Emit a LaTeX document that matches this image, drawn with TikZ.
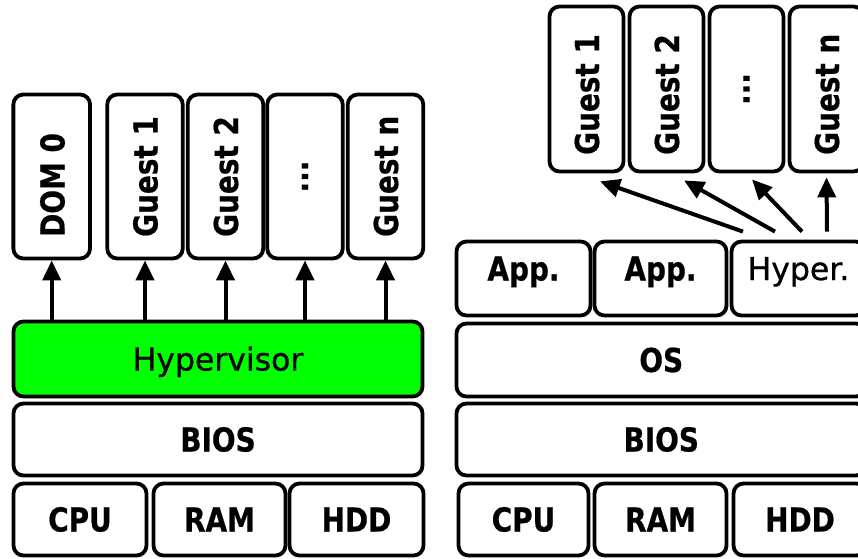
\documentclass[tikz,border=0pt]{standalone}
\usepackage{fontspec}
\setmainfont{DejaVu Sans}[FakeBold=0.8]
\newfontfamily\bfont{DejaVu Sans}[FakeStretch=0.845, FakeBold=0.6]
\usetikzlibrary{arrows.meta,calc}
\definecolor{hypgreen}{RGB}{0,255,0}
\tikzset{
  box/.style={draw, line width=3.8pt, rounded corners=10pt, fill=white, inner sep=0pt},
  bt/.style={font=\bfont\bfseries\fontsize{33}{40}\selectfont, text height=24pt, text depth=0pt},
  rt/.style={font=\fontsize{31.5}{38}\selectfont, text height=23pt, text depth=0pt},
  raised/.style={text depth=20pt},
  vlab/.style={font=\bfont\bfseries\fontsize{33}{40}\selectfont, rotate=90, anchor=west, inner sep=0pt},
  dlab/.style={font=\bfont\bfseries\fontsize{33}{40}\selectfont, rotate=90, anchor=center, inner sep=0pt},
  arr/.style={line width=4pt, -{Triangle[length=20pt,width=18pt]}},
}
\begin{document}
\begin{tikzpicture}[x=1pt,y=-1pt]
\useasboundingbox (0,0) rectangle (858,558);
\fill[white] (0,0) rectangle (858,558);
\clip (0,0) rectangle (858,558);
% ---------- left stack ----------
\node[box, minimum width=76.7pt, minimum height=164pt] (ld0) at (51.7,176.5) {};
\node[box, minimum width=75.5pt, minimum height=164pt] (lg1) at (145,176.5) {};
\node[box, minimum width=75.5pt, minimum height=164pt] (lg2) at (225.5,176.5) {};
\node[box, minimum width=75.5pt, minimum height=164pt] (lgd) at (305,176.5) {};
\node[box, minimum width=75.5pt, minimum height=164pt] (lgn) at (385.5,176.5) {};
\node[vlab] (ld0t) at (52.5,237) {DOM 0};
\node[vlab] (lg1t) at (145.5,237) {Guest 1};
\node[vlab] (lg2t) at (226,237) {Guest 2};
\node[dlab] (lgdt) at (lgd.center) {...};
\node[vlab] (lgnt) at (386,237) {Guest n};
\node[box, fill=hypgreen, rt, minimum width=409pt, minimum height=75pt] (lhyp) at (218,359) {Hypervisor};
\node[box, bt, minimum width=409pt, minimum height=72pt] (lbios) at (218,439.5) {BIOS};
\node[box, bt, minimum width=133pt, minimum height=72pt] (lcpu) at (80,519.5) {CPU};
\node[box, bt, minimum width=132pt, minimum height=72pt] (lram) at (219.5,519.5) {RAM};
\node[box, bt, minimum width=134pt, minimum height=72pt] (lhdd) at (356.5,519.5) {HDD};
\foreach \g in {ld0,lg1,lg2,lgd,lgn}{
  \draw[arr] (lhyp.north -| \g.south) -- (\g.south);
}
% ---------- right stack ----------
\node[box, minimum width=74pt, minimum height=165pt] (rg1) at (586.5,89) {};
\node[box, minimum width=74pt, minimum height=165pt] (rg2) at (666.5,89) {};
\node[box, minimum width=74pt, minimum height=165pt] (rgd) at (746.5,89) {};
\node[box, minimum width=74pt, minimum height=165pt] (rgn) at (826.5,89) {};
\node[vlab] (rg1t) at (587,155) {Guest 1};
\node[vlab] (rg2t) at (667,155) {Guest 2};
\node[dlab] (rgdt) at (rgd.center) {...};
\node[vlab] (rgnt) at (827,155) {Guest n};
\node[box, bt, raised, minimum width=134pt, minimum height=74pt] (rapp1) at (523.5,278.5) {App.};
\node[box, bt, raised, minimum width=132pt, minimum height=74pt] (rapp2) at (660.5,278.5) {App.};
\node[box, rt, raised, minimum width=134pt, minimum height=74pt] (rhyp) at (798.5,278.5) {Hyper.};
\node[box, bt, minimum width=409.5pt, minimum height=73pt] (ros) at (661.25,360) {OS};
\node[box, bt, minimum width=409.5pt, minimum height=72pt] (rbios) at (661.25,439.5) {BIOS};
\node[box, bt, minimum width=130pt, minimum height=72pt] (rcpu) at (523.5,519.5) {CPU};
\node[box, bt, minimum width=132pt, minimum height=72pt] (rram) at (660.5,519.5) {RAM};
\node[box, bt, minimum width=133pt, minimum height=72pt] (rhdd) at (800,519.5) {HDD};
\coordinate (t1) at ($(rhyp.north)+(-55.5,-8)$);
\coordinate (t2) at ($(rhyp.north)+(-23.5,-8)$);
\coordinate (t3) at ($(rhyp.north)+(3.5,-8)$);
\coordinate (t4) at ($(rhyp.north)+(28.5,-8)$);
\draw[arr] (t1) -- ($(rg1.south)+(13.5,8)$);
\draw[arr] (t2) -- ($(rg2.south)+(17.5,7)$);
\draw[arr] (t3) -- ($(rgd.south)+(5.5,6)$);
\draw[arr] (t4) -- ($(rgn.south)+(0,4)$);
\end{tikzpicture}
\end{document}
